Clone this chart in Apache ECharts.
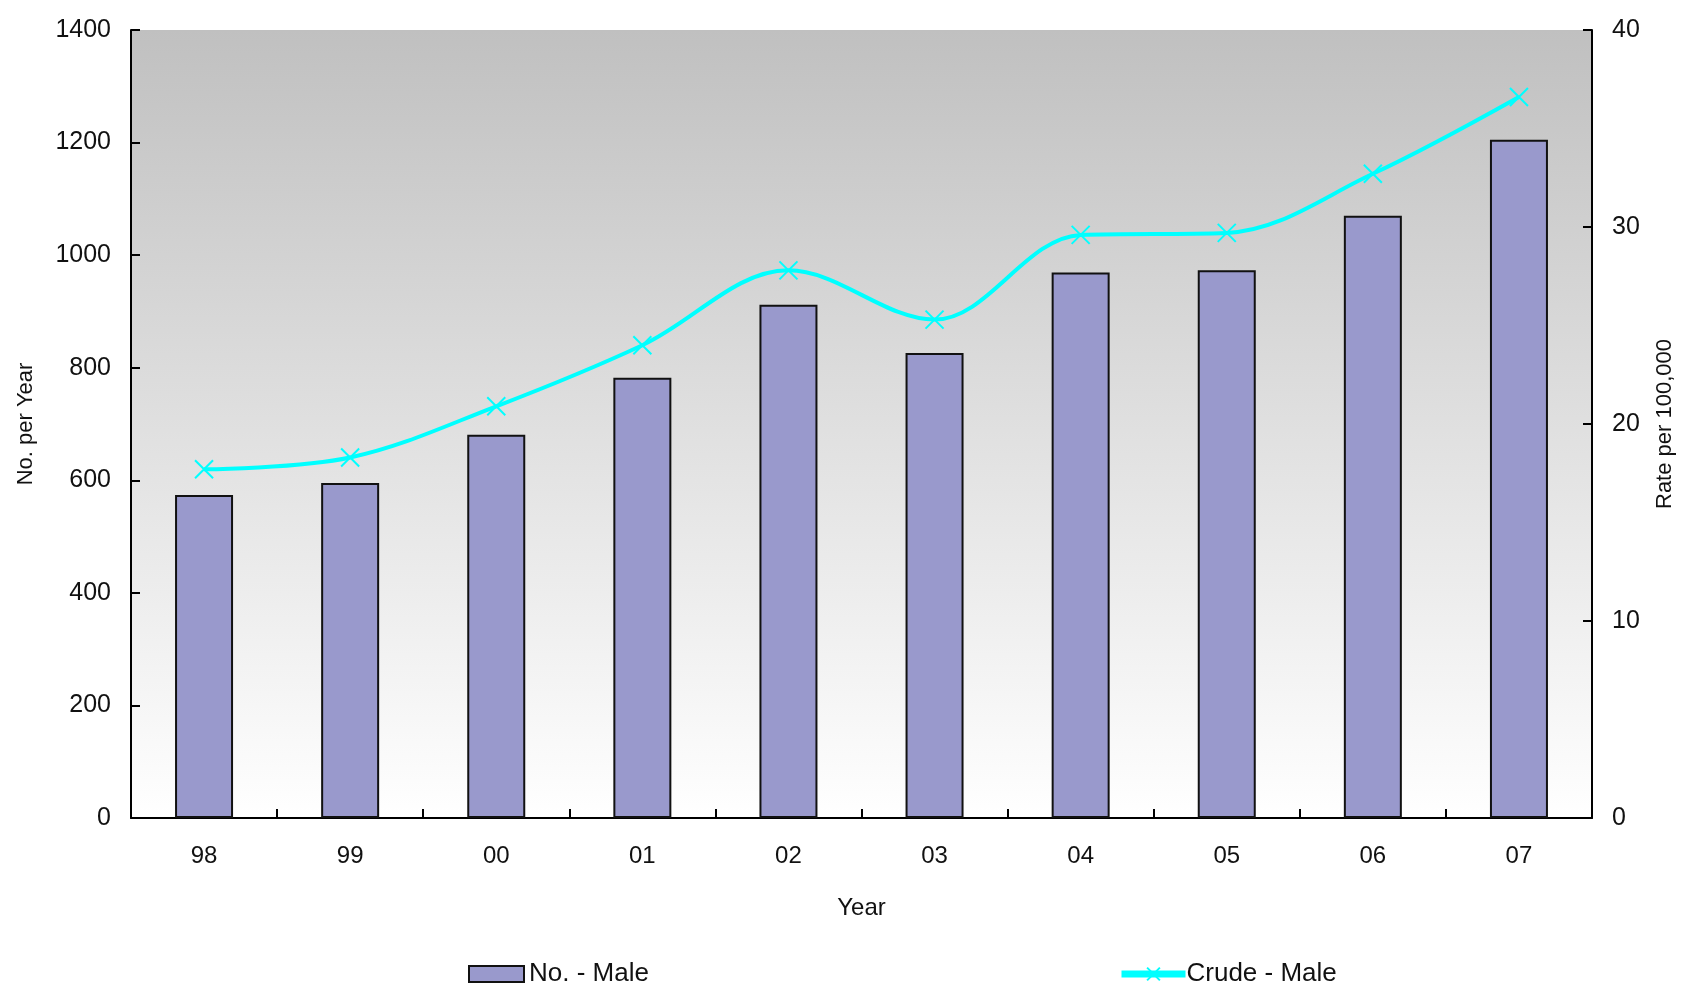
<!DOCTYPE html>
<html>
<head>
<meta charset="utf-8">
<script src="https://cdn.jsdelivr.net/npm/echarts@6/dist/echarts.min.js"></script>
<style>
  html, body { margin: 0; padding: 0; background: #ffffff; }
  #chart { width: 1684px; height: 984px; }
</style>
</head>
<body>
<div id="chart"></div>
<script>
// Year labels along the category axis
const years = ['98', '99', '00', '01', '02', '03', '04', '05', '06', '07'];
// Number of male cases per year (left axis)
const maleCounts = [574, 595, 681, 782, 912, 826, 969, 973, 1070, 1205];
// Crude rate per 100,000 males (right axis)
const crudeRates = [17.7, 18.3, 20.9, 24.0, 27.8, 25.3, 29.6, 29.7, 32.7, 36.6];

const FONT = '"Liberation Sans", Arial, sans-serif';
const TEXT = '#111111';

const chart = echarts.init(document.getElementById('chart'), null, { renderer: 'canvas' });

const crossSymbol = 'path://M0,0L10,10M10,0L0,10';
const plainNumber = v => String(v);

chart.setOption({
  animation: false,
  backgroundColor: '#ffffff',
  textStyle: { fontFamily: FONT, color: TEXT },
  grid: {
    left: 131, right: 90, top: 30, bottom: 166,
    show: true,
    borderWidth: 0,
    backgroundColor: {
      type: 'linear', x: 0, y: 0, x2: 0, y2: 1,
      colorStops: [
        { offset: 0, color: '#c0c0c0' },
        { offset: 1, color: '#ffffff' }
      ]
    }
  },
  legend: [
    {
      data: [{ name: 'No. - Male', icon: 'rect' }],
      left: 463, top: 956,
      itemWidth: 55, itemHeight: 16,
      itemStyle: { borderColor: '#111111', borderWidth: 2 },
      textStyle: { fontFamily: FONT, fontSize: 26, color: TEXT },
      itemGap: 8
    },
    {
      data: ['Crude - Male'],
      left: 1113, top: 956,
      itemWidth: 64, itemHeight: 16,
      lineStyle: { width: 7, color: '#00ffff' },
      textStyle: { fontFamily: FONT, fontSize: 26, color: TEXT, padding: [0, 0, 0, -4] },
      itemGap: 4
    }
  ],
  xAxis: {
    type: 'category',
    data: years,
    boundaryGap: true,
    name: 'Year',
    nameLocation: 'middle',
    nameGap: 78,
    nameTextStyle: { fontFamily: FONT, fontSize: 24, color: TEXT },
    axisLine: { lineStyle: { color: '#000000', width: 2 } },
    axisTick: { show: true, interval: 0, inside: true, length: 9, lineStyle: { color: '#000000', width: 2 } },
    axisLabel: { fontFamily: FONT, fontSize: 24, color: TEXT, margin: 26 },
    splitLine: { show: false }
  },
  yAxis: [
    {
      type: 'value',
      min: 0, max: 1400, interval: 200,
      name: 'No. per Year',
      nameLocation: 'middle',
      nameGap: 94,
      nameRotate: 90,
      nameTextStyle: { fontFamily: FONT, fontSize: 22, color: TEXT },
      axisLine: { show: true, lineStyle: { color: '#000000', width: 2 } },
      axisTick: { show: true, inside: true, length: 9, lineStyle: { color: '#000000', width: 2 } },
      axisLabel: { fontFamily: FONT, fontSize: 25, color: TEXT, margin: 20, formatter: plainNumber },
      splitLine: { show: false }
    },
    {
      type: 'value',
      min: 0, max: 40, interval: 10,
      position: 'right',
      name: 'Rate per 100,000',
      nameLocation: 'middle',
      nameGap: 62,
      nameRotate: 90,
      nameTextStyle: { fontFamily: FONT, fontSize: 22, color: TEXT },
      axisLine: { show: true, lineStyle: { color: '#000000', width: 2 } },
      axisTick: { show: true, inside: true, length: 9, lineStyle: { color: '#000000', width: 2 } },
      axisLabel: { fontFamily: FONT, fontSize: 25, color: TEXT, margin: 20, formatter: plainNumber },
      splitLine: { show: false }
    }
  ],
  series: [
    {
      name: 'No. - Male',
      type: 'bar',
      yAxisIndex: 0,
      data: maleCounts,
      barWidth: 58,
      itemStyle: { color: '#9999cc', borderColor: '#111111', borderWidth: 2 }
    },
    {
      name: 'Crude - Male',
      type: 'line',
      yAxisIndex: 1,
      data: crudeRates,
      smooth: 0.35,
      symbol: crossSymbol,
      symbolSize: 18,
      lineStyle: { color: '#00ffff', width: 4 },
      itemStyle: { color: '#00ffff', borderColor: '#00ffff', borderWidth: 2 },
      z: 5
    }
  ]
});
</script>
</body>
</html>
